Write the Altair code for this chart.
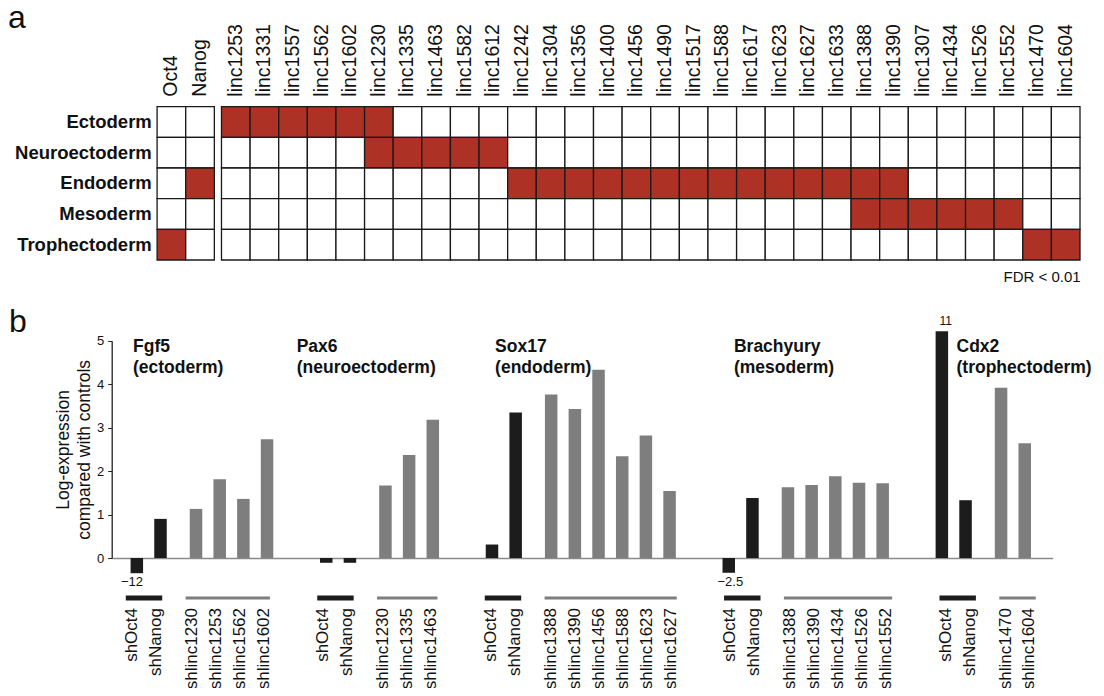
import altair as alt
import pandas as pd

# ---------------- Panel a data ----------------
lineages = ["Ectoderm", "Neuroectoderm", "Endoderm", "Mesoderm", "Trophectoderm"]
factor_genes = ["Oct4", "Nanog"]
lincs = ["linc1253", "linc1331", "linc1557", "linc1562", "linc1602", "linc1230",
         "linc1335", "linc1463", "linc1582", "linc1612", "linc1242", "linc1304",
         "linc1356", "linc1400", "linc1456", "linc1490", "linc1517", "linc1588",
         "linc1617", "linc1623", "linc1627", "linc1633", "linc1388", "linc1390",
         "linc1307", "linc1434", "linc1526", "linc1552", "linc1470", "linc1604"]
ecto_hits = ["linc1253", "linc1331", "linc1557", "linc1562", "linc1602", "linc1230"]
neuro_hits = ["linc1230", "linc1335", "linc1463", "linc1582", "linc1612"]
endo_hits = ["Nanog", "linc1242", "linc1304", "linc1356", "linc1400", "linc1456",
             "linc1490", "linc1517", "linc1588", "linc1617", "linc1623", "linc1627",
             "linc1633", "linc1388", "linc1390"]
meso_hits = ["linc1388", "linc1390", "linc1307", "linc1434", "linc1526", "linc1552"]
tropho_hits = ["Oct4", "linc1470", "linc1604"]
fdr_note = "FDR < 0.01"

# ---------------- Panel b data ----------------
markers = ["Fgf5", "Pax6", "Sox17", "Brachyury", "Cdx2"]
marker_lineages = ["(ectoderm)", "(neuroectoderm)", "(endoderm)", "(mesoderm)", "(trophectoderm)"]
ctrl_names = ["shOct4", "shNanog"]
ctrl_values = [[-0.35, 0.90], [-0.11, -0.11], [0.31, 3.35], [-0.34, 1.38], [5.22, 1.33]]
ctrl_value_labels = [["\u221212", ""], ["", ""], ["", ""], ["\u22122.5", ""], ["11", ""]]
linc_names = [
    ["shlinc1230", "shlinc1253", "shlinc1562", "shlinc1602"],
    ["shlinc1230", "shlinc1335", "shlinc1463"],
    ["shlinc1388", "shlinc1390", "shlinc1456", "shlinc1588", "shlinc1623", "shlinc1627"],
    ["shlinc1388", "shlinc1390", "shlinc1434", "shlinc1526", "shlinc1552"],
    ["shlinc1470", "shlinc1604"],
]
linc_values = [
    [1.13, 1.81, 1.36, 2.73],
    [1.67, 2.37, 3.18],
    [3.76, 3.43, 4.33, 2.34, 2.82, 1.54],
    [1.63, 1.68, 1.88, 1.73, 1.72],
    [3.92, 2.64],
]
title_slots = [0.04, 6.88, 15.17, 25.15, 34.45]
y_title = ["Log-expression", "compared with controls"]

RED = "#ad3124"
DARK = "#1c1c1c"
GREY = "#7e7e7e"
FONT = "Liberation Sans"

# ---------------- build tables ----------------
hits = [ecto_hits, neuro_hits, endo_hits, meso_hits, tropho_hits]
cols = factor_genes + lincs
recs = []
for r, (lin, hl) in enumerate(zip(lineages, hits)):
    for i, c in enumerate(cols):
        x0 = i + (0.25 if i >= len(factor_genes) else 0.0)
        recs.append(dict(lineage=lin, gene=c, cx0=x0, cx1=x0 + 1, cxm=x0 + 0.5,
                         ry0=r, ry1=r + 1, rym=r + 0.5, hit="yes" if c in hl else "no"))
heat = pd.DataFrame(recs)
col_df = heat[heat["ry0"] == 0].reset_index(drop=True)
row_df = heat[heat["cx0"] == 0].reset_index(drop=True)

brecs = []
start = 0.0
for m, cv, cl, ln, lv in zip(markers, ctrl_values, ctrl_value_labels, linc_names, linc_values):
    for k, (n, v, l) in enumerate(zip(ctrl_names, cv, cl)):
        brecs.append(dict(group=m, name=n, value=v, label=l, kind="control", pos=start + k))
    for k, (n, v) in enumerate(zip(ln, lv)):
        brecs.append(dict(group=m, name=n, value=v, label="", kind="linc",
                          pos=start + len(ctrl_names) + 0.5 + k))
    start = brecs[-1]["pos"] + 2.5
bars = pd.DataFrame(brecs)
under = bars.groupby(["group", "kind"], sort=False).agg(u0=("pos", "min"), u1=("pos", "max")).reset_index()
neg_lab = bars[(bars["label"] != "") & (bars["value"] < 0)].reset_index(drop=True)
pos_lab = bars[(bars["label"] != "") & (bars["value"] > 0)].reset_index(drop=True)
titles = pd.DataFrame({
    "lines": [[m, s] for m, s in zip(markers, marker_lineages)],
    "tx": title_slots,
    "ty": [4.73] * len(markers),
})

# ---------------- scales ----------------
HX = alt.Scale(domain=[0, 32.25], range=[149.1, 1072], nice=False, zero=False)
HY = alt.Scale(domain=[0, 5], range=[98.7, 252], nice=False, zero=False)
BX = alt.Scale(domain=[-0.85, 38.47], range=[103.7, 1044.7], nice=False, zero=False)
BY = alt.Scale(domain=[0, 5], range=[550, 332.7], nice=False, zero=False)

# ---------------- panel a layers ----------------
heat_layer = alt.Chart(heat).mark_rect(stroke="#1a1a1a", strokeWidth=1.3).encode(
    x=alt.X("cx0:Q", scale=HX, axis=None),
    x2="cx1:Q",
    y=alt.Y("ry0:Q", scale=HY, axis=None),
    y2="ry1:Q",
    color=alt.Color("hit:N", scale=alt.Scale(domain=["yes", "no"], range=[RED, "white"]), legend=None),
)
col_labels = alt.Chart(col_df).mark_text(angle=270, align="left", baseline="middle",
                                         fontSize=19.5, color="#111").encode(
    x=alt.X("cxm:Q", scale=HX, axis=None),
    y=alt.value(88.7),
    text="gene:N",
)
row_labels = alt.Chart(row_df).mark_text(align="right", baseline="middle", fontSize=18.5,
                                         fontWeight="bold", color="#111").encode(
    x=alt.value(143.8),
    y=alt.Y("rym:Q", scale=HY, axis=None),
    text="lineage:N",
)
letter_a = alt.Chart(pd.DataFrame({"t": ["a"]})).mark_text(
    align="left", baseline="alphabetic", fontSize=32, color="#111").encode(
    x=alt.value(0), y=alt.value(20.3), text="t:N")
fdr = alt.Chart(pd.DataFrame({"t": [fdr_note]})).mark_text(
    align="right", baseline="alphabetic", fontSize=15, color="#111").encode(
    x=alt.value(1072.7), y=alt.value(273.7), text="t:N")

# ---------------- panel b layers ----------------
bar_layer = alt.Chart(bars).mark_bar(size=12.5).encode(
    x=alt.X("pos:Q", scale=BX,
            axis=alt.Axis(orient="bottom", offset=-130, labels=False, ticks=False, title=None,
                          grid=False, domainColor="#8a8a8a", domainWidth=1.6)),
    y=alt.Y("value:Q", scale=BY,
            axis=alt.Axis(orient="left", offset=-103.7, values=[0, 1, 2, 3, 4, 5], grid=False,
                          tickSize=4, tickColor="#222", domainColor="#222", domainWidth=1.3,
                          labelFontSize=13, labelPadding=4, labelColor="#111",
                          title=y_title, titleFontSize=17.5, titleFontWeight="normal",
                          titleColor="#111", titlePadding=3, titleLineHeight=21)),
    y2=alt.datum(0),
    color=alt.Color("kind:N", scale=alt.Scale(domain=["control", "linc"], range=[DARK, GREY]), legend=None),
)
cat_labels = alt.Chart(bars).mark_text(angle=270, align="right", baseline="middle",
                                       fontSize=17, color="#111").encode(
    x=alt.X("pos:Q", scale=BX, axis=None),
    y=alt.value(600),
    text="name:N",
)
under_layer = alt.Chart(under).mark_rule(xOffset=-6.25, x2Offset=6.25).encode(
    x=alt.X("u0:Q", scale=BX, axis=None),
    x2="u1:Q",
    y=alt.value(590),
    color=alt.Color("kind:N", scale=alt.Scale(domain=["control", "linc"], range=[DARK, GREY]), legend=None),
    size=alt.Size("kind:N", scale=alt.Scale(domain=["control", "linc"], range=[5, 3]), legend=None),
)
neg_layer = alt.Chart(neg_lab).mark_text(baseline="top", dy=3, fontSize=13, color="#111").encode(
    x=alt.X("pos:Q", scale=BX, axis=None),
    y=alt.Y("value:Q", scale=BY, axis=None),
    text="label:N",
)
pos_layer = alt.Chart(pos_lab).mark_text(baseline="bottom", dy=-3, fontSize=12, color="#111").encode(
    x=alt.X("pos:Q", scale=BX, axis=None),
    y=alt.Y("value:Q", scale=BY, axis=None),
    text="label:N",
)
title_layer = alt.Chart(titles).mark_text(align="left", baseline="alphabetic", fontSize=17.5,
                                          fontWeight="bold", lineHeight=20.5, color="#111").encode(
    x=alt.X("tx:Q", scale=BX, axis=None),
    y=alt.Y("ty:Q", scale=BY, axis=None),
    text="lines",
)
letter_b = alt.Chart(pd.DataFrame({"t": ["b"]})).mark_text(
    align="left", baseline="alphabetic", fontSize=32, color="#111").encode(
    x=alt.value(1), y=alt.value(323.7), text="t:N")

chart = alt.layer(
    heat_layer, col_labels, row_labels, letter_a, fdr,
    bar_layer, under_layer, cat_labels, neg_layer, pos_layer, title_layer, letter_b,
).resolve_scale(
    x="independent", y="independent", color="independent", size="independent"
).properties(
    width=1088, height=680,
    autosize=alt.AutoSizeParams(type="none"),
    padding=0,
).configure(font=FONT).configure_view(strokeOpacity=0)

chart.save("out.html", embed_options={"renderer": "svg", "actions": False})
